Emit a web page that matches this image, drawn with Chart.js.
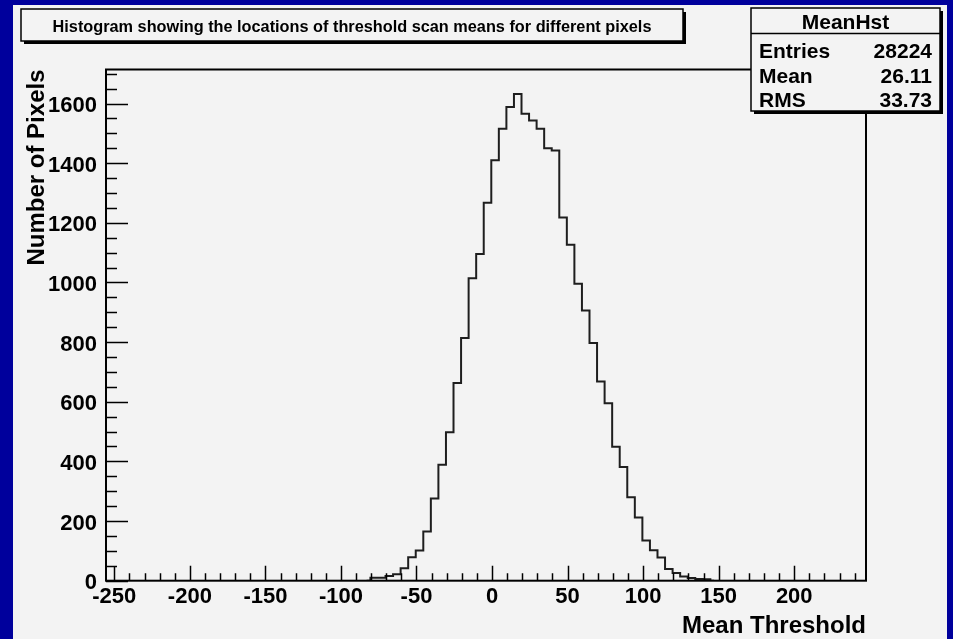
<!DOCTYPE html>
<html>
<head>
<meta charset="utf-8">
<title>MeanHst</title>
<script src="https://cdn.jsdelivr.net/npm/chart.js@4.4.1/dist/chart.umd.min.js"></script>
<style>
  html, body { margin: 0; padding: 0; background: #00009c; }
  canvas { display: block; }
</style>
</head>
<body>
<canvas id="meanHstChart" width="953" height="639"></canvas>
<script>
// bin centres (5 unit bins, edges at 5k - 0.5) and counts
const binCenters = [-83, -78, -73, -68, -63, -58, -53, -48, -43, -38, -33, -28, -23, -18, -13, -8, -3,
    2, 7, 12, 17, 22, 27, 32, 37, 42, 47, 52, 57, 62, 67, 72, 77, 82, 87, 92, 97, 102, 107, 112,
    117, 122, 127, 132, 137, 142, 147];
const binCounts = [0, 10, 10, 16, 22, 42, 79, 101, 165, 276, 389, 498, 663, 814, 1014, 1095, 1267,
    1410, 1515, 1588, 1632, 1566, 1543, 1515, 1450, 1442, 1218, 1126, 996, 906, 797, 668, 595, 449,
    381, 280, 212, 135, 102, 78, 39, 26, 14, 9, 6, 5, 0];

const xRange = [-255.5, 247.5];
const yRange = [0, 1714];
const xTickLabels = [-250, -200, -150, -100, -50, 0, 50, 100, 150, 200];
const yTickLabels = [0, 200, 400, 600, 800, 1000, 1200, 1400, 1600];
const xMinorStep = 10;
const yMinorStep = 50;

const titleText = 'Histogram showing the locations of threshold scan means for different pixels';
const statsName = 'MeanHst';
const statsLabels = ['Entries', 'Mean', 'RMS'];
const statsValues = ['28224', '26.11', '33.73'];

const FONT = '"Liberation Sans", Arial, Helvetica, sans-serif';
const BG = '#f3f3f3';

function shadowBox(ctx, x, y, w, h) {
    ctx.fillStyle = '#000';
    ctx.fillRect(x + 3, y + 3, w, h);
    ctx.fillStyle = BG;
    ctx.fillRect(x, y, w, h);
    ctx.strokeStyle = '#000';
    ctx.lineWidth = 1.5;
    ctx.strokeRect(x, y, w, h);
}

const rootStyle = {
    id: 'rootStyle',
    beforeDraw(chart) {
        const ctx = chart.ctx;
        ctx.save();
        ctx.fillStyle = '#00009c';
        ctx.fillRect(0, 0, chart.width, chart.height);
        ctx.fillStyle = BG;
        ctx.fillRect(13, 5, 934, 640);
        ctx.restore();
    },
    afterDraw(chart) {
        const ctx = chart.ctx;
        const area = chart.chartArea;
        const xs = chart.scales.x;
        const ys = chart.scales.y;
        ctx.save();

        // ticks inside the frame
        ctx.strokeStyle = '#000';
        ctx.lineWidth = 1.5;
        ctx.beginPath();
        for (let v = -250; v <= xRange[1]; v += xMinorStep) {
            const px = Math.round(xs.getPixelForValue(v)) + 0.5;
            const len = xTickLabels.includes(v) ? 15 : 7.5;
            ctx.moveTo(px, area.bottom);
            ctx.lineTo(px, area.bottom - len);
        }
        for (let v = 0; v <= yRange[1]; v += yMinorStep) {
            const py = Math.round(ys.getPixelForValue(v)) + 0.5;
            const len = yTickLabels.includes(v) ? 22 : 11;
            ctx.moveTo(area.left, py);
            ctx.lineTo(area.left + len, py);
        }
        ctx.stroke();

        // frame
        ctx.lineWidth = 2;
        ctx.strokeRect(area.left, area.top, area.right - area.left, area.bottom - area.top);

        // tick labels
        ctx.fillStyle = '#000';
        ctx.font = 'bold 22px ' + FONT;
        ctx.textAlign = 'center';
        ctx.textBaseline = 'alphabetic';
        xTickLabels.forEach(v => {
            ctx.fillText(String(v), xs.getPixelForValue(v), area.bottom + 22.5);
        });
        ctx.textAlign = 'right';
        yTickLabels.forEach(v => {
            ctx.fillText(String(v), area.left - 9, ys.getPixelForValue(v) + 8.5);
        });

        // axis titles
        ctx.font = 'bold 24px ' + FONT;
        ctx.textAlign = 'right';
        ctx.fillText('Mean Threshold', area.right, 633);
        ctx.save();
        ctx.translate(44, area.top);
        ctx.rotate(-Math.PI / 2);
        ctx.textAlign = 'right';
        ctx.fillText('Number of Pixels', 0, 0);
        ctx.restore();

        // title box
        shadowBox(ctx, 21, 9, 662, 32);
        ctx.fillStyle = '#000';
        ctx.font = 'bold 16.3px ' + FONT;
        ctx.textAlign = 'center';
        ctx.fillText(titleText, 352, 31.5);

        // stats box
        shadowBox(ctx, 751, 8, 189, 103);
        ctx.lineWidth = 1.5;
        ctx.beginPath();
        ctx.moveTo(751, 33.5);
        ctx.lineTo(940, 33.5);
        ctx.stroke();
        ctx.fillStyle = '#000';
        ctx.font = 'bold 21px ' + FONT;
        ctx.textAlign = 'center';
        ctx.fillText(statsName, 845.5, 28.5);
        statsLabels.forEach((lab, i) => {
            const by = 58 + i * 24.6;
            ctx.textAlign = 'left';
            ctx.fillText(lab, 759, by);
            ctx.textAlign = 'right';
            ctx.fillText(statsValues[i], 932, by);
        });

        ctx.restore();
    }
};

const ctx = document.getElementById('meanHstChart').getContext('2d');
const meanHstChart = new Chart(ctx, {
    type: 'line',
    data: {
        datasets: [{
            label: statsName,
            data: binCenters.map((c, i) => ({ x: c, y: binCounts[i] })),
            stepped: 'middle',
            borderColor: '#1e1e1e',
            borderWidth: 2,
            pointRadius: 0,
            fill: false
        }]
    },
    options: {
        responsive: false,
        animation: false,
        devicePixelRatio: 1,
        layout: {
            padding: { left: 106, top: 69.5, right: 87, bottom: 58.3 }
        },
        plugins: {
            legend: { display: false },
            tooltip: { enabled: false }
        },
        scales: {
            x: { type: 'linear', display: false, min: xRange[0], max: xRange[1] },
            y: { type: 'linear', display: false, min: yRange[0], max: yRange[1] }
        }
    },
    plugins: [rootStyle]
});
</script>
</body>
</html>
